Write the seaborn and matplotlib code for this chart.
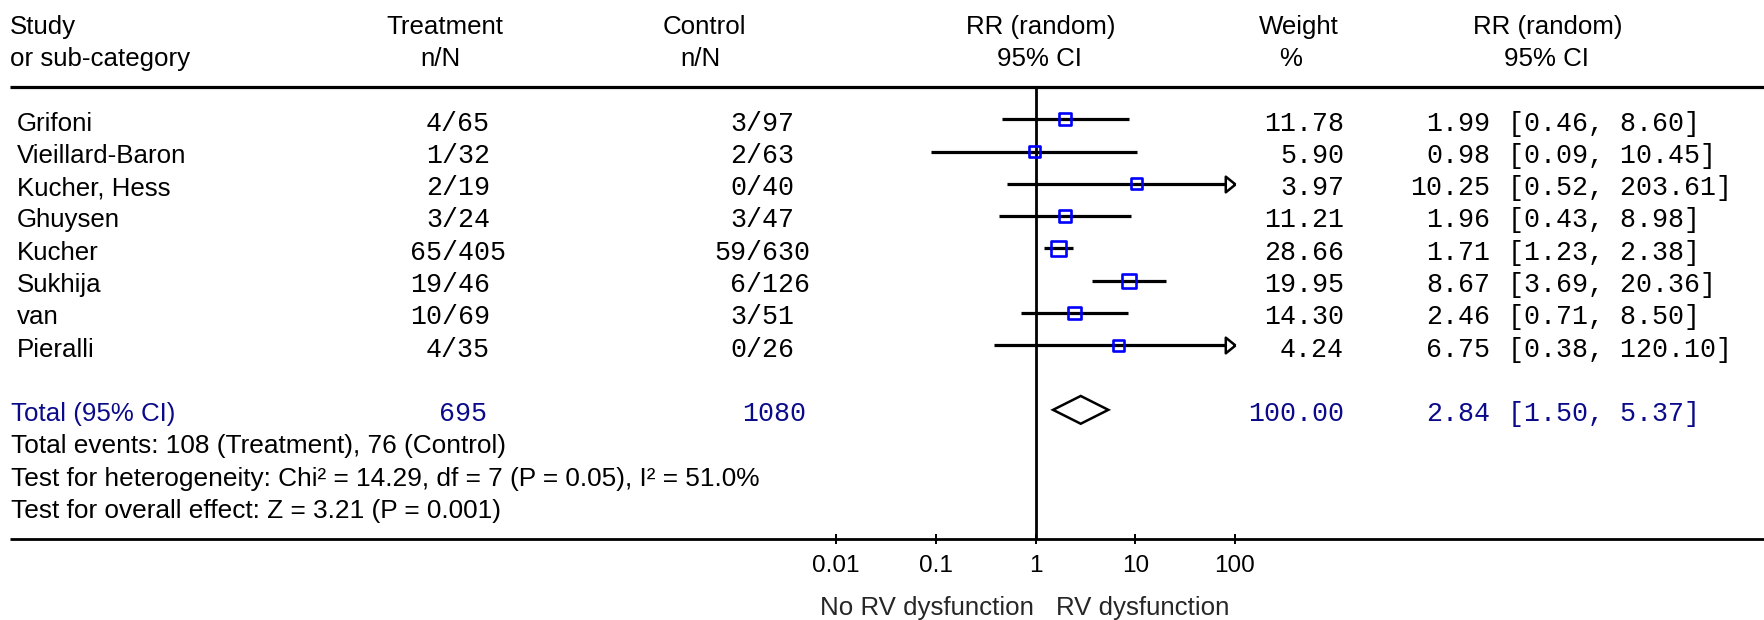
import numpy as np
import pandas as pd
import matplotlib
matplotlib.use("Agg")
import matplotlib.pyplot as plt
import seaborn as sns
from matplotlib.transforms import blended_transform_factory

# ---------------- data ----------------
studies = ["Grifoni", "Vieillard-Baron", "Kucher, Hess", "Ghuysen",
           "Kucher", "Sukhija", "van", "Pieralli"]
treat_events = [4, 1, 2, 3, 65, 19, 10, 4]
treat_total = [65, 32, 19, 24, 405, 46, 69, 35]
ctrl_events = [3, 2, 0, 3, 59, 6, 3, 0]
ctrl_total = [97, 63, 40, 47, 630, 126, 51, 26]
weights = [11.78, 5.90, 3.97, 11.21, 28.66, 19.95, 14.30, 4.24]
rr = [1.99, 0.98, 10.25, 1.96, 1.71, 8.67, 2.46, 6.75]
rr_lo = [0.46, 0.09, 0.52, 0.43, 1.23, 3.69, 0.71, 0.38]
rr_hi = [8.60, 10.45, 203.61, 8.98, 2.38, 20.36, 8.50, 120.10]

total_label = "Total (95% CI)"
total_treat = 695
total_ctrl = 1080
total_weight = 100.00
total_rr = 2.84
total_lo = 1.50
total_hi = 5.37

footer_lines = ["Total events: 108 (Treatment), 76 (Control)",
                "Test for heterogeneity: Chi\u00b2 = 14.29, df = 7 (P = 0.05), I\u00b2 = 51.0%",
                "Test for overall effect: Z = 3.21 (P = 0.001)"]

axis_ticks = [0.01, 0.1, 1, 10, 100]
tick_labels = ["0.01", "0.1", "1", "10", "100"]
left_label = "No RV dysfunction"
right_label = "RV dysfunction"

# ---------------- style ----------------
sns.set_style("white")
plt.rcParams["font.family"] = ["Liberation Sans", "DejaVu Sans"]
MONO = ["Liberation Mono", "DejaVu Sans Mono"]
FS = 18.6
FSM = 19.2
NAVY = "#0a0a8a"
W, H = 1764, 620

fig = plt.figure(figsize=(W / 100, H / 100), dpi=100)
ax = fig.add_axes([836 / W, (H - 539) / H, 399 / W, 452 / H])
ax.set_xscale("log")
ax.set_xlim(axis_ticks[0], axis_ticks[-1])
ax.set_ylim(13, -1)
for s in ax.spines.values():
    s.set_visible(False)
ax.set_yticks([])
ax.set_facecolor("none")

T = blended_transform_factory(fig.transFigure, ax.transData)
BASE = 0.35  # baseline offset below row line (rows)


def txt(px, y, s, ha="left", mono=False, color="black", size=None):
    ax.text(px / W, y, s, transform=T, ha=ha, va="baseline",
            fontsize=size or (FSM if mono else FS),
            family=MONO if mono else ["Liberation Sans", "DejaVu Sans"],
            color=color, clip_on=False)


# headers
h1, h2 = -2.63, -1.65
txt(10, h1, "Study"); txt(10, h2, "or sub-category")
txt(445, h1, "Treatment", ha="center"); txt(440, h2, "n/N", ha="center")
txt(704, h1, "Control", ha="center"); txt(700, h2, "n/N", ha="center")
txt(1041, h1, "RR (random)", ha="center"); txt(1039, h2, "95% CI", ha="center")
txt(1299, h1, "Weight", ha="center"); txt(1291, h2, "%", ha="center")
txt(1548, h1, "RR (random)", ha="center"); txt(1546, h2, "95% CI", ha="center")

# rules
ax.plot([10 / W, 1], [-1, -1], transform=T, color="black", lw=2.3, clip_on=False,
        solid_capstyle="butt")
ax.plot([10 / W, 1], [13, 13], transform=T, color="black", lw=2.0, clip_on=False,
        solid_capstyle="butt")

# line of no effect
ax.axvline(1, color="black", lw=2.0, zorder=2)

cw = FSM * 100 / 72 * 0.6  # mono cell width in px
rows = np.arange(len(studies))
for i in rows:
    y = i + BASE
    txt(17, y, studies[i])
    n1 = str(treat_events[i])
    txt(450 - (len(n1) + 0.5) * cw, y, f"{n1}/{treat_total[i]}", mono=True)
    n2 = str(ctrl_events[i])
    txt(754 - (len(n2) + 0.5) * cw, y, f"{n2}/{ctrl_total[i]}", mono=True)
    txt(1344, y, f"{weights[i]:.2f}", ha="right", mono=True)
    txt(1490, y, f"{rr[i]:.2f}", ha="right", mono=True)
    txt(1508, y, f"[{rr_lo[i]:.2f}, {rr_hi[i]:.2f}]", mono=True)

# CI lines
xmax = axis_ticks[-1]
xmin = axis_ticks[0]
lo_c = np.clip(rr_lo, xmin, xmax)
hi_c = np.clip(rr_hi, xmin, xmax)
ax.hlines(rows, lo_c, hi_c, color="black", lw=2.3, zorder=3)

# arrow heads for CIs beyond the axis
arrow = [(0, 0), (-0.62, 0.5), (-0.62, -0.5), (0, 0)]
over = [i for i in rows if rr_hi[i] > xmax]
ax.plot([xmax] * len(over), over, linestyle="none", marker=arrow, markersize=14,
        markerfacecolor="white", markeredgecolor="black", markeredgewidth=1.8,
        zorder=4, clip_on=False)

# squares
df = pd.DataFrame({"rr": rr, "row": rows, "weight": weights})
sns.scatterplot(data=df, x="rr", y="row", size="weight", sizes=(62, 115),
                marker="s", color="blue", edgecolor="blue", linewidth=1.9,
                legend=False, ax=ax, zorder=5)
ax.collections[-1].set_facecolor("none")
ax.set_xlabel("")
ax.set_ylabel("")

# total row
ty = len(studies) + 1
txt(11, ty + BASE, total_label, color=NAVY)
txt(439, ty + BASE, str(total_treat), mono=True, color=NAVY)
txt(742, ty + BASE, str(total_ctrl), mono=True, color=NAVY)
txt(1344, ty + BASE, f"{total_weight:.2f}", ha="right", mono=True, color=NAVY)
txt(1490, ty + BASE, f"{total_rr:.2f}", ha="right", mono=True, color=NAVY)
txt(1508, ty + BASE, f"[{total_lo:.2f}, {total_hi:.2f}]", mono=True, color=NAVY)
hh = 0.43
ax.fill([total_lo, total_rr, total_hi, total_rr], [ty, ty - hh, ty, ty + hh],
        facecolor="white", edgecolor="black", lw=1.8, zorder=4)

for k, line in enumerate(footer_lines):
    txt(11, ty + 1 + k + BASE, line, size=18.9)

# axis ticks
ax.set_xticks(axis_ticks)
ax.set_xticklabels(tick_labels)
ax.xaxis.set_minor_locator(matplotlib.ticker.NullLocator())
ax.tick_params(axis="x", direction="inout", length=6.5, width=1.4, pad=8,
               labelsize=17.5, colors="black", bottom=True)

ax.annotate(left_label, xy=(1, 13), xycoords="data", xytext=(-2, -76),
            textcoords="offset pixels", ha="right", va="baseline", fontsize=FS,
            annotation_clip=False)
ax.annotate(right_label, xy=(1, 13), xycoords="data", xytext=(21, -76),
            textcoords="offset pixels", ha="left", va="baseline", fontsize=FS,
            annotation_clip=False)

fig.savefig("out.png", dpi=100, facecolor="white")
